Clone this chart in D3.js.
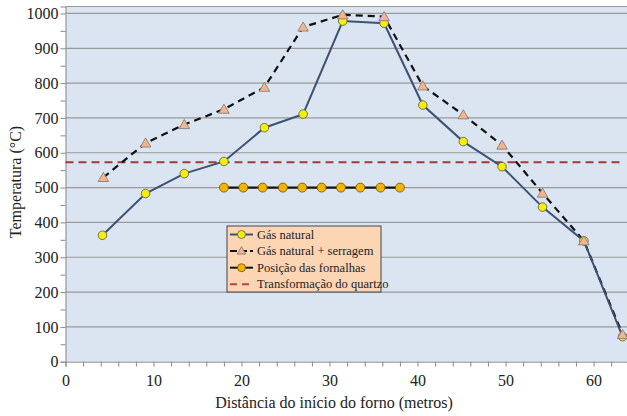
<!DOCTYPE html>
<html>
<head>
<meta charset="utf-8">
<script src="https://cdn.jsdelivr.net/npm/d3@7"></script>
<style>
  body { margin: 0; background: #fff; }
  svg text { font-family: "Liberation Serif", "Times New Roman", "DejaVu Serif", serif !important; }
</style>
</head>
<body>
<svg id="chart" width="627" height="416"></svg>
<script>
// distances along the kiln (m) and temperatures (°C)
var gasX = [4.2, 9.1, 13.5, 18.0, 22.6, 27.0, 31.5, 36.2, 40.6, 45.2, 49.6, 54.2, 58.9, 63.3];
var gasY = [363, 483, 540, 575, 672, 711, 978, 972, 737, 632, 560, 444, 347, 72];
var serrX = [4.3, 9.1, 13.5, 18.0, 22.6, 27.0, 31.5, 36.2, 40.6, 45.2, 49.6, 54.2, 58.9, 63.3];
var serrY = [529, 628, 681, 725, 788, 961, 996, 991, 792, 709, 622, 484, 347, 78];
var fornX = [18.0, 20.2, 22.4, 24.7, 26.9, 29.1, 31.3, 33.5, 35.8, 38.0];
var fornY = [500, 500, 500, 500, 500, 500, 500, 500, 500, 500];
var quartzX = [0, 63.0];
var quartzY = [573, 573];
var xTicks = [0, 10, 20, 30, 40, 50, 60];
var yTicks = [0, 100, 200, 300, 400, 500, 600, 700, 800, 900, 1000];
var legendLabels = ["Gás natural", "Gás natural + serragem", "Posição das fornalhas", "Transformação do quartzo"];

var serif = "'Liberation Serif', 'Times New Roman', serif";
var svg = d3.select("#chart");
var mLeft = 65.5, mRight = 627, mTop = 6.5, mBottom = 361.7;

var x = d3.scaleLinear().domain([0, 63.8]).range([mLeft, mRight]);
var y = d3.scaleLinear().domain([0, 1020]).range([mBottom, mTop]);

// plot area
svg.append("rect")
  .attr("x", mLeft).attr("y", mTop)
  .attr("width", mRight - mLeft).attr("height", mBottom - mTop)
  .attr("fill", "#dbe5f1");

// gridlines
svg.append("g").selectAll("line")
  .data(yTicks.filter(function(d) { return d > 0; }))
  .enter().append("line")
  .attr("x1", mLeft).attr("x2", mRight)
  .attr("y1", function(d) { return y(d); })
  .attr("y2", function(d) { return y(d); })
  .attr("stroke", "#9a9a9a").attr("stroke-width", 1.2);

svg.append("line")
  .attr("x1", mLeft).attr("x2", mRight).attr("y1", mTop).attr("y2", mTop)
  .attr("stroke", "#9a9a9a").attr("stroke-width", 1);

// axes
var xAxis = svg.append("g")
  .attr("transform", "translate(0," + mBottom + ")")
  .call(d3.axisBottom(x).tickValues(d3.range(0, 64, 2)).tickSize(5).tickFormat(function(d) {
    return xTicks.indexOf(d) >= 0 ? d : "";
  }));
xAxis.attr("font-family", serif);
xAxis.select(".domain").attr("stroke", "#8a8a8a");
xAxis.selectAll(".tick line").attr("stroke", "#8a8a8a");
xAxis.selectAll("text").attr("font-size", 16).attr("fill", "#222").attr("dy", "1em")
  .style("font-family", serif);

var yAxis = svg.append("g")
  .attr("transform", "translate(" + mLeft + ",0)")
  .call(d3.axisLeft(y).tickValues(d3.range(0, 1001, 50)).tickSize(5).tickFormat(function(d) {
    return yTicks.indexOf(d) >= 0 ? d : "";
  }));
yAxis.attr("font-family", serif);
yAxis.select(".domain").attr("stroke", "#8a8a8a");
yAxis.selectAll(".tick line").attr("stroke", "#8a8a8a");
yAxis.selectAll("text").attr("font-size", 16).attr("fill", "#222").attr("x", -7)
  .style("font-family", serif);

// axis titles
svg.append("text")
  .attr("x", 334).attr("y", 408)
  .attr("text-anchor", "middle").attr("font-size", 16).attr("fill", "#222")
  .style("font-family", serif)
  .text("Distância do início do forno (metros)");
svg.append("text")
  .attr("transform", "translate(21,182) rotate(-90)")
  .attr("text-anchor", "middle").attr("font-size", 16).attr("fill", "#222")
  .style("font-family", serif)
  .text("Temperatura (°C)");

var line = d3.line().x(function(d) { return x(d[0]); }).y(function(d) { return y(d[1]); });
function pairs(xs, ys) { return xs.map(function(v, i) { return [v, ys[i]]; }); }

// quartz transformation
svg.append("path")
  .datum(pairs(quartzX, quartzY))
  .attr("d", line).attr("fill", "none")
  .attr("stroke", "#a33a3a").attr("stroke-width", 2).attr("stroke-dasharray", "8,5");

// furnace positions
svg.append("path")
  .datum(pairs(fornX, fornY))
  .attr("d", line).attr("fill", "none")
  .attr("stroke", "#111").attr("stroke-width", 2.2);
svg.append("g").selectAll("circle")
  .data(pairs(fornX, fornY))
  .enter().append("circle")
  .attr("cx", function(d) { return x(d[0]); })
  .attr("cy", function(d) { return y(d[1]); })
  .attr("r", 4.5)
  .attr("fill", "#f5b400").attr("stroke", "#6a5000").attr("stroke-width", 0.8);

// natural gas + sawdust
var tri = d3.symbol().type(d3.symbolTriangle).size(48);
svg.append("path")
  .datum(pairs(serrX, serrY))
  .attr("d", line).attr("fill", "none")
  .attr("stroke", "#111").attr("stroke-width", 2.2).attr("stroke-dasharray", "7,5");

// natural gas
svg.append("path")
  .datum(pairs(gasX, gasY))
  .attr("d", line).attr("fill", "none")
  .attr("stroke", "#3b5272").attr("stroke-width", 2);
svg.append("g").selectAll("circle")
  .data(pairs(gasX, gasY))
  .enter().append("circle")
  .attr("cx", function(d) { return x(d[0]); })
  .attr("cy", function(d) { return y(d[1]); })
  .attr("r", 4.3)
  .attr("fill", "#f5f000").attr("stroke", "#555").attr("stroke-width", 0.8);

svg.append("g").selectAll("path")
  .data(pairs(serrX, serrY))
  .enter().append("path")
  .attr("d", tri)
  .attr("transform", function(d) { return "translate(" + x(d[0]) + "," + (y(d[1]) + 1) + ")"; })
  .attr("fill", "#f6b48c").attr("stroke", "#777").attr("stroke-width", 0.8);

// legend
var lg = svg.append("g").attr("transform", "translate(227,226)");
lg.append("rect").attr("width", 154).attr("height", 66)
  .attr("fill", "#fcd5b5").attr("stroke", "#444").attr("stroke-width", 1);
legendLabels.forEach(function(lab, i) {
  var cy = 8.5 + i * 16.6;
  var ln = lg.append("line").attr("x1", 3).attr("x2", 26).attr("y1", cy).attr("y2", cy)
    .attr("stroke-width", 2);
  if (i === 0) {
    ln.attr("stroke", "#3b5272");
    lg.append("circle").attr("cx", 14.5).attr("cy", cy).attr("r", 4)
      .attr("fill", "#f5f000").attr("stroke", "#555").attr("stroke-width", 0.8);
  } else if (i === 1) {
    ln.attr("stroke", "#111").attr("stroke-dasharray", "7,3");
    lg.append("path").attr("d", d3.symbol().type(d3.symbolTriangle).size(32))
      .attr("transform", "translate(14.5," + (cy + 0.5) + ")")
      .attr("fill", "#f6b48c").attr("stroke", "#777").attr("stroke-width", 0.8);
  } else if (i === 2) {
    ln.attr("stroke", "#111");
    lg.append("circle").attr("cx", 14.5).attr("cy", cy).attr("r", 4)
      .attr("fill", "#f5b400").attr("stroke", "#6a5000").attr("stroke-width", 0.8);
  } else {
    ln.attr("stroke", "#b04545").attr("stroke-dasharray", "7,5");
  }
  lg.append("text").attr("x", 30).attr("y", cy + 4)
    .attr("font-size", 12.5).attr("fill", "#222").style("font-family", serif).text(lab);
});
</script>
</body>
</html>
